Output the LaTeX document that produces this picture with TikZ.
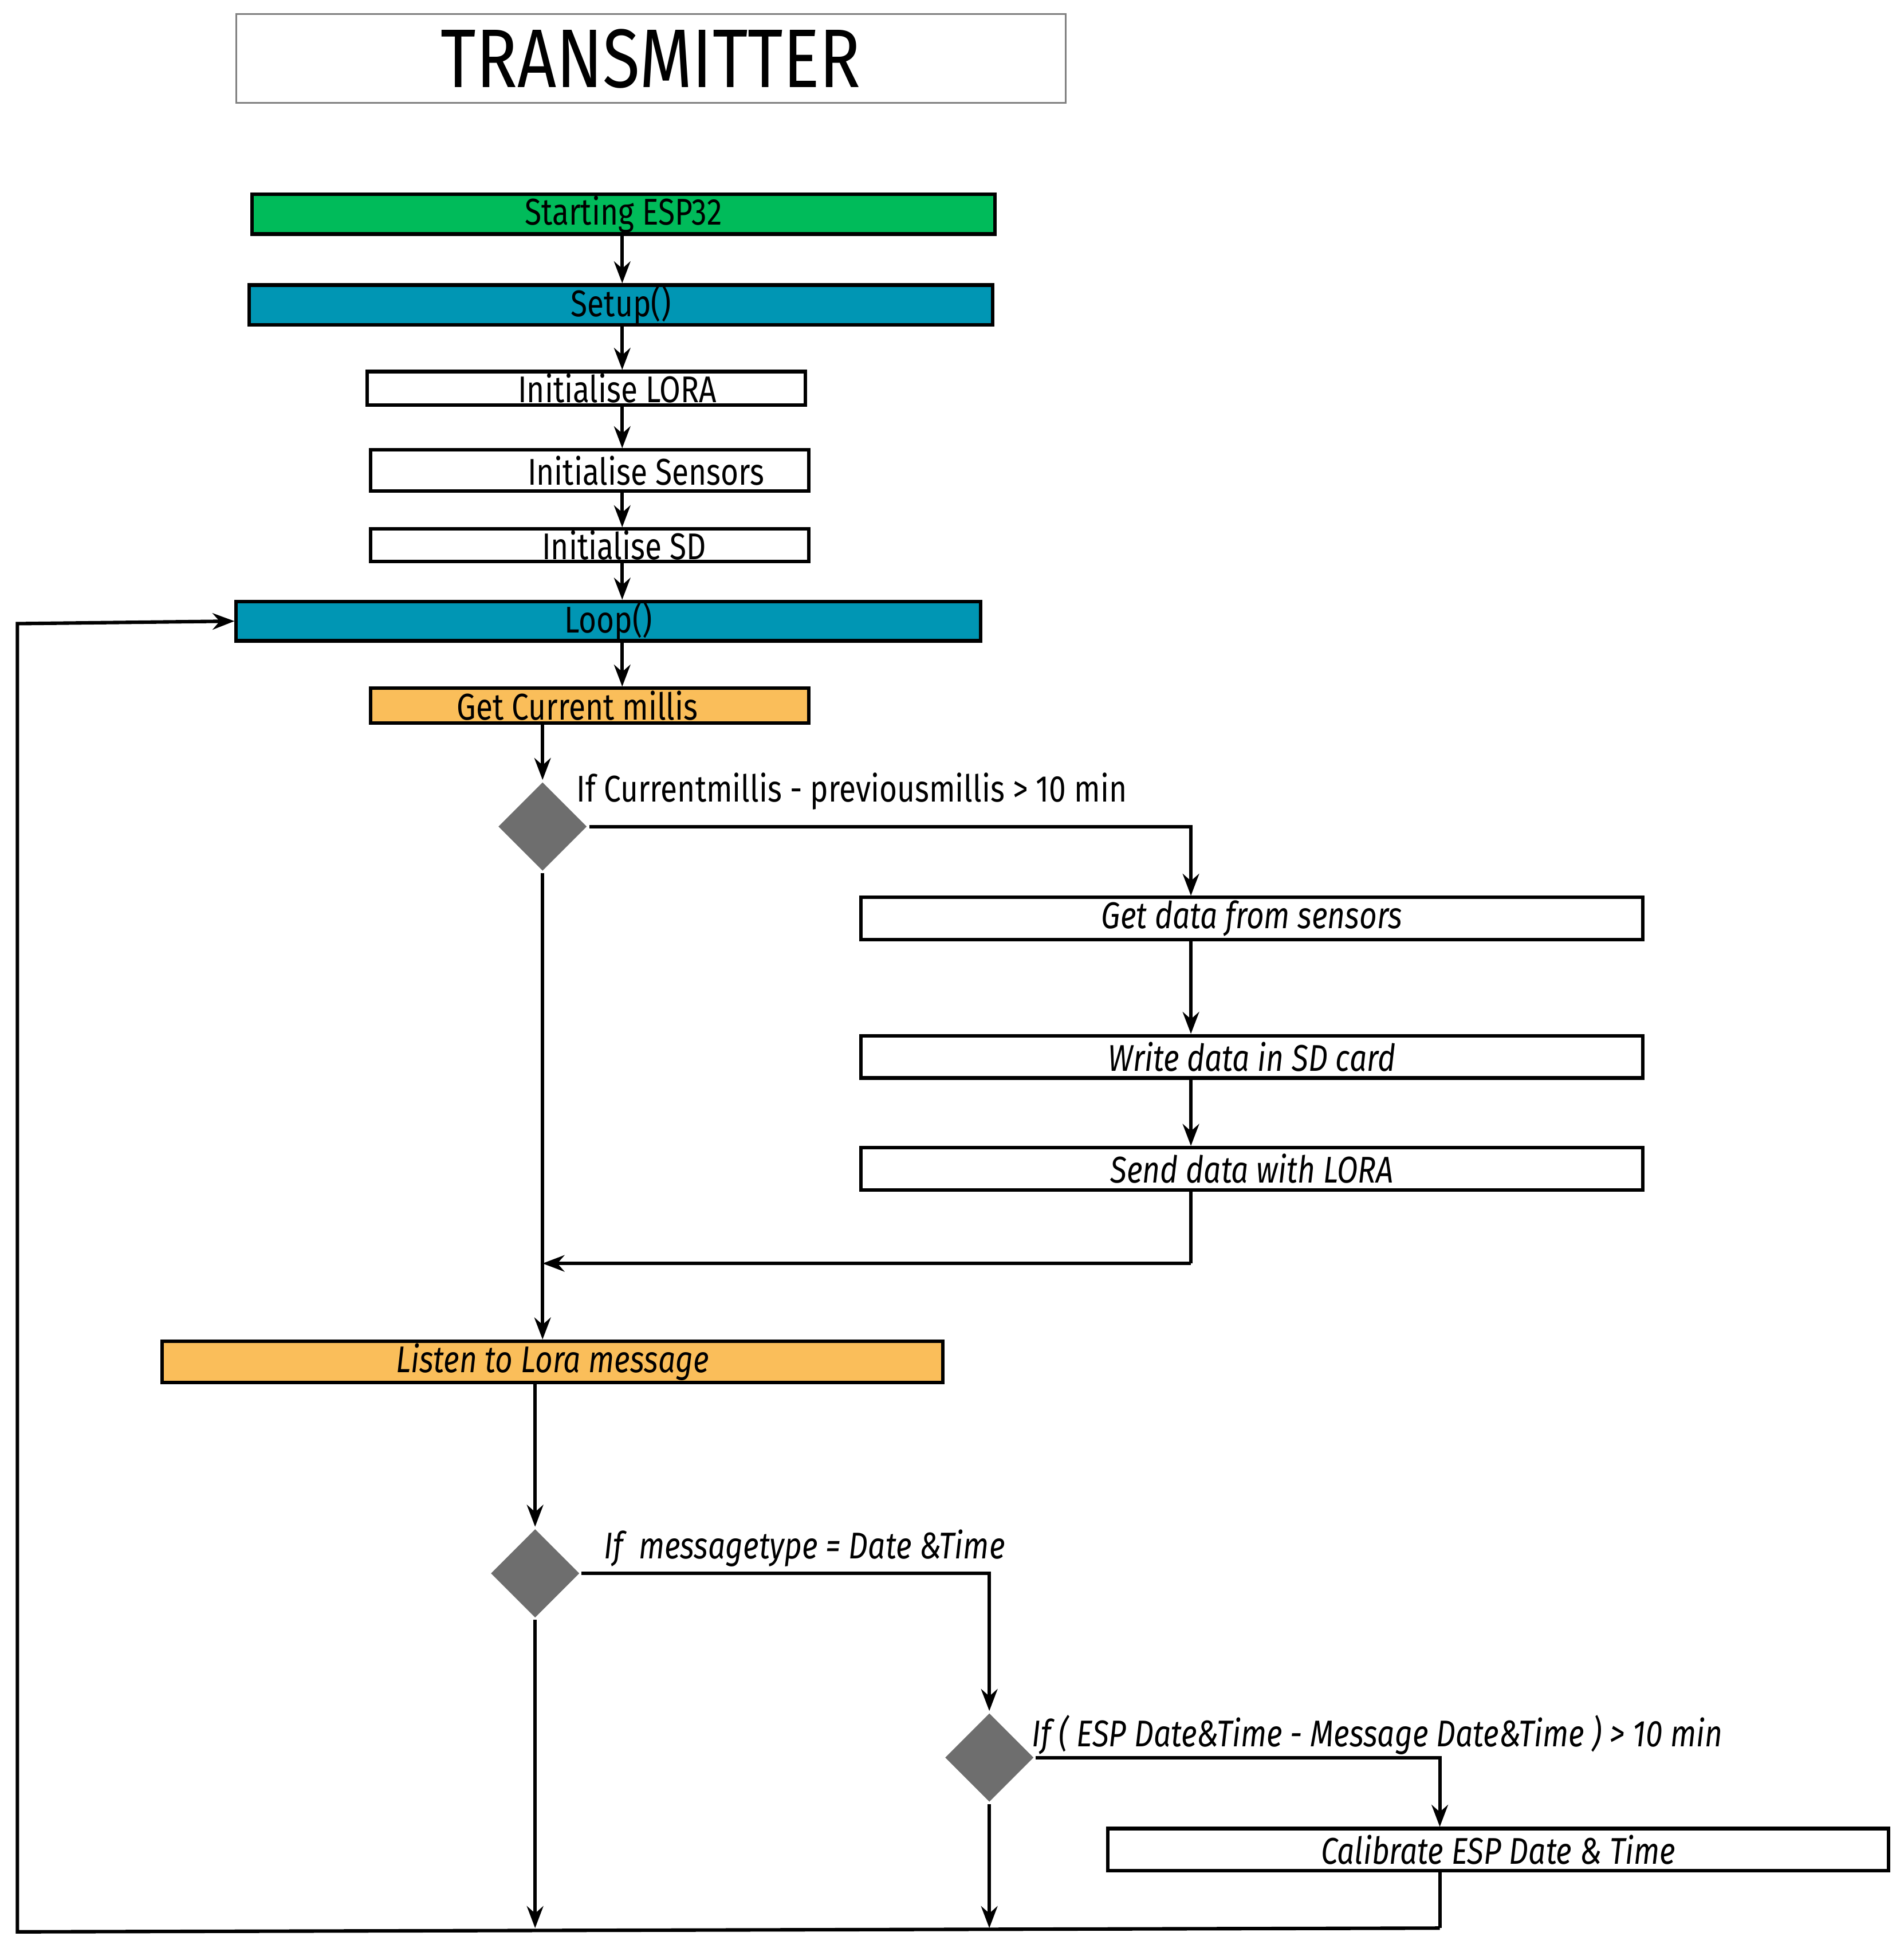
\documentclass[tikz,border=0pt]{standalone}
\usepackage{fontspec}
\setmainfont{Fira Sans}[FakeStretch=0.82]
\usetikzlibrary{shapes.geometric,arrows.meta}
\definecolor{startgreen}{RGB}{0,187,90}
\definecolor{phase}{RGB}{0,150,180}
\definecolor{step}{RGB}{250,190,90}
\definecolor{decision}{RGB}{110,110,110}
\begin{document}
\begin{tikzpicture}[x=0.01cm,y=-0.01cm, >={Stealth[length=5pt]}, thick,
  box/.style={draw, rectangle, inner sep=0pt, font=\fontsize{8.5}{10}\selectfont},
  ask/.style={diamond, fill=decision, minimum width=0.72cm, minimum height=0.72cm, inner sep=0pt},
  note/.style={anchor=base west, inner sep=0pt, font=\fontsize{8.5}{10}\selectfont}]
  \useasboundingbox (0,0) rectangle (1530,1565);
  % title
  \node[draw=gray, thin, minimum width=6.66cm, minimum height=0.63cm, font=\fontsize{19}{22}\selectfont] (title) at (523,47) {TRANSMITTER};
  % setup part
  \node[box, fill=startgreen, minimum width=5.97cm, minimum height=0.32cm] (start) at (501,172) {Starting ESP32};
  \node[box, fill=phase, minimum width=5.97cm, minimum height=0.32cm] (setup) at (499,245) {Setup()};
  \node[box, minimum width=3.52cm, minimum height=0.27cm] (lora) at (471,312) {\hspace{0.5cm}Initialise LORA};
  \node[box, minimum width=3.52cm, minimum height=0.33cm] (sensors) at (474,378) {\hspace{0.9cm}Initialise Sensors};
  \node[box, minimum width=3.52cm, minimum height=0.26cm] (sd) at (474,438) {\hspace{0.55cm}Initialise SD};
  \node[box, fill=phase, minimum width=5.98cm, minimum height=0.30cm] (loop) at (489,499) {Loop()};
  \node[box, fill=step, minimum width=3.52cm, minimum height=0.28cm] (millis) at (474,567) {\hspace{-0.2cm}Get Current millis};
  % measuring branch
  \node[ask] (timer) at (436,664) {};
  \node[note] at (462,644) {If Currentmillis - previousmillis > 10 min};
  \node[box, minimum width=6.28cm, minimum height=0.34cm, font=\fontsize{8.5}{10}\selectfont\itshape] (getdata) at (1006,738) {Get data from sensors};
  \node[box, minimum width=6.28cm, minimum height=0.34cm, font=\fontsize{8.5}{10}\selectfont\itshape] (write) at (1006,849) {Write data in SD card};
  \node[box, minimum width=6.28cm, minimum height=0.34cm, font=\fontsize{8.5}{10}\selectfont\itshape] (send) at (1006,939) {Send data with LORA};
  % listening branch
  \node[box, fill=step, minimum width=6.27cm, minimum height=0.33cm, font=\fontsize{8.5}{10}\selectfont\itshape] (listen) at (444,1094) {Listen to Lora message};
  \node[ask] (msgtype) at (430,1264) {};
  \node[note, font=\fontsize{8.5}{10}\selectfont\itshape] at (484,1252) {If\ \ messagetype = Date \&Time};
  \node[ask] (drift) at (795,1412) {};
  \node[note, font=\fontsize{8.5}{10}\selectfont\itshape] at (828,1403) {If ( ESP Date\&Time - Message Date\&Time ) > 10 min};
  \node[box, minimum width=6.27cm, minimum height=0.34cm, font=\fontsize{8.5}{10}\selectfont\itshape] (calib) at (1204,1486) {Calibrate ESP Date \& Time};
  % helper coordinates
  \coordinate (ax) at (500,0);
  \coordinate (ax2) at (957,0);
  \coordinate (ax3) at (1157,0);
  \coordinate (join) at (957,1015);
  \coordinate (back) at (1157,1549);
  \coordinate (corner) at (14,1552);
  \coordinate (top) at (14,501);
  % connectors
  \draw[->] (start.south -| ax) -- (setup.north -| ax);
  \draw[->] (setup.south -| ax) -- (lora.north -| ax);
  \draw[->] (lora.south -| ax) -- (sensors.north -| ax);
  \draw[->] (sensors.south -| ax) -- (sd.north -| ax);
  \draw[->] (sd.south -| ax) -- (loop.north -| ax);
  \draw[->] (loop.south -| ax) -- (millis.north -| ax);
  \draw[->] (millis.south -| timer) -- (timer.north);
  \draw[->] (timer.east) -| (getdata.north -| ax2);
  \draw[->] (getdata.south -| ax2) -- (write.north -| ax2);
  \draw[->] (write.south -| ax2) -- (send.north -| ax2);
  \draw (send.south -| ax2) -- (join);
  \draw[->] (join) -- (join -| timer);
  \draw[->] (timer.south) -- (listen.north -| timer);
  \draw[->] (listen.south -| msgtype) -- (msgtype.north);
  \draw[->] (msgtype.east) -| (drift.north);
  \draw[->] (drift.east) -| (calib.north -| ax3);
  \draw (calib.south -| ax3) -- (back);
  \draw[->] (msgtype.south) -- (msgtype |- back);
  \draw[->] (drift.south) -- (drift |- back);
  \draw[->] (back) -- (corner) -- (top) -- (loop.west);
\end{tikzpicture}
\end{document}
